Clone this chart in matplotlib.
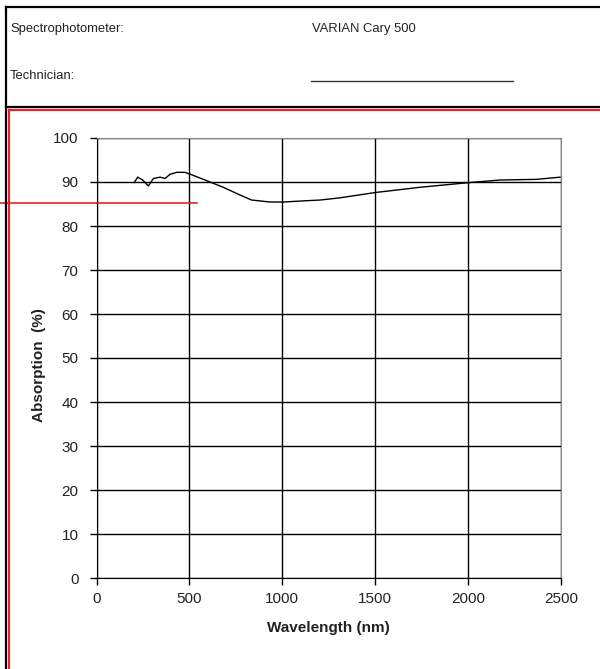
import matplotlib
matplotlib.use("Agg")
import matplotlib.pyplot as plt
from matplotlib.lines import Line2D

plt.rcParams['font.family'] = ['Liberation Sans', 'DejaVu Sans']

# === DATA ===
wavelength = [203, 222, 250, 279, 306, 342, 369, 396, 432, 476, 503, 593, 682, 772,
              835, 934, 1005, 1131, 1203, 1310, 1499, 1741, 2001, 2172, 2369, 2495]
absorption = [89.9, 91.1, 90.4, 89.1, 90.8, 91.1, 90.8, 91.75, 92.2, 92.2, 91.8, 90.3, 88.8, 87.05,
              85.9, 85.45, 85.45, 85.75, 85.9, 86.4, 87.6, 88.8, 89.85, 90.45, 90.6, 91.1]
x_ticks = [0, 500, 1000, 1500, 2000, 2500]
y_ticks = [0, 10, 20, 30, 40, 50, 60, 70, 80, 90, 100]
header_labels = ["Spectrophotometer:", "Technician:"]
header_values = ["VARIAN Cary 500", ""]
marker_level = [0, 541]     # red reference mark, wavelength range
marker_y = 85.3

W, H = 600, 669
fig = plt.figure(figsize=(W / 100, H / 100), dpi=100)


def fx(px):
    return px / W


def fy(py):
    return 1 - py / H


# === plot area ===
ax = fig.add_axes([fx(96.5), fy(578), fx(561) - fx(96.5), fy(138) - fy(578)])
ax.plot(wavelength, absorption, color='black', lw=1.0)
ax.set_xlim(0, 2500)
ax.set_ylim(0, 100)
ax.set_xticks(x_ticks)
ax.set_yticks(y_ticks)
ax.grid(True, color='black', lw=1.0)
ax.tick_params(direction='out', length=5, width=1, colors='black', labelcolor='#222222',
               labelsize=11)
ax.tick_params(axis='x', pad=5)
ax.tick_params(axis='y', pad=8)
for s in ['left', 'bottom']:
    ax.spines[s].set_color('black')
for s in ['top', 'right']:
    ax.spines[s].set_color('#888888')
ax.set_xlabel("Wavelength (nm)", fontsize=11, fontweight='bold', color='#222222')
ax.set_ylabel("Absorption  (%)", fontsize=11, fontweight='bold', color='#222222')
ax.xaxis.set_label_coords(0.5, (578 - 621) / 440)
ax.yaxis.set_label_coords((46 - 96.5) / 464.5, 0.485)

# red reference line that runs in from the page margin
ax.plot(marker_level, [marker_y, marker_y], color='#e8222a', lw=1.2, clip_on=False)
fig.add_artist(Line2D([0, fx(97)], [fy(202.7), fy(202.7)], color='#e8222a', lw=1.2))

# === report header frame ===
fig.add_artist(Line2D([fx(6), fx(600)], [fy(6.5), fy(6.5)], color='black', lw=1.6))
fig.add_artist(Line2D([fx(6), fx(6)], [fy(6.5), 0], color='black', lw=1.6))
fig.add_artist(Line2D([fx(6), fx(600)], [fy(106.5), fy(106.5)], color='black', lw=1.6))
fig.add_artist(Line2D([fx(9.3), fx(600)], [fy(109.5), fy(109.5)], color='#e8222a', lw=1.6))
fig.add_artist(Line2D([fx(9.3), fx(9.3)], [fy(109.5), 0], color='#e8222a', lw=1.6))

for lab, val, py in zip(header_labels, header_values, [29, 76]):
    fig.text(fx(10), fy(py), lab, fontsize=9.4, color='#222222', va='center', ha='left')
    if val:
        fig.text(fx(312), fy(py), val, fontsize=9.4, color='#222222', va='center', ha='left')
fig.add_artist(Line2D([fx(311), fx(513)], [fy(81), fy(81)], color='#333333', lw=1.0))

fig.savefig("out.png", dpi=100)
